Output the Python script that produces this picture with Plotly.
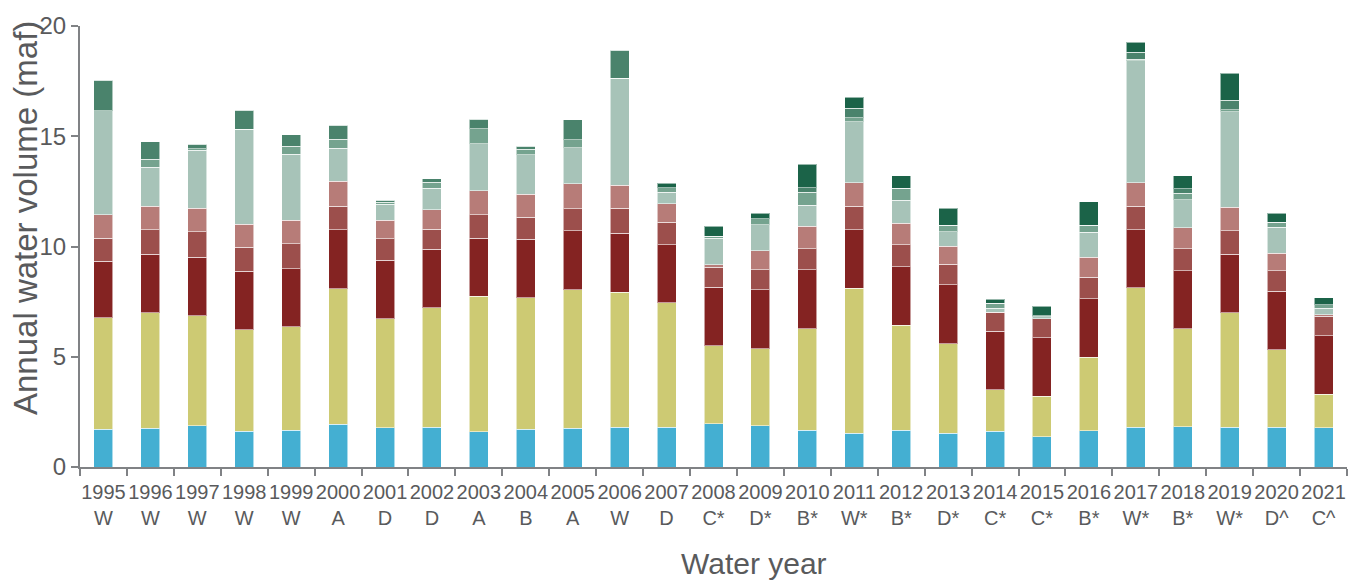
import plotly.graph_objects as go

# Water years and their year-type classification
years = [str(y) for y in range(1995, 2022)]
year_types = ["W", "W", "W", "W", "W", "A", "D", "D", "A", "B", "A", "W", "D",
              "C*", "D*", "B*", "W*", "B*", "D*", "C*", "C*", "B*", "W*", "B*",
              "W*", "D^", "C^"]

# Annual volumes (maf) for each stacked component, bottom to top
source_1 = [1.71, 1.75, 1.87, 1.63, 1.66, 1.93, 1.77, 1.81, 1.59, 1.71, 1.75, 1.80, 1.81,
            1.97, 1.86, 1.66, 1.54, 1.66, 1.54, 1.63, 1.37, 1.65, 1.81, 1.83, 1.80, 1.81, 1.78]
source_2 = [5.05, 5.24, 5.00, 4.59, 4.69, 6.16, 4.96, 5.41, 6.15, 5.97, 6.30, 6.13, 5.63,
            3.52, 3.51, 4.62, 6.57, 4.77, 4.06, 1.87, 1.85, 3.32, 6.31, 4.44, 5.19, 3.51, 1.52]
source_3 = [2.57, 2.66, 2.65, 2.66, 2.65, 2.66, 2.65, 2.65, 2.64, 2.65, 2.66, 2.67, 2.64,
            2.66, 2.66, 2.66, 2.65, 2.66, 2.66, 2.66, 2.64, 2.66, 2.64, 2.64, 2.66, 2.66, 2.65]
source_4 = [1.05, 1.10, 1.14, 1.08, 1.13, 1.07, 0.97, 0.92, 1.05, 1.00, 1.01, 1.13, 1.01,
            0.92, 0.91, 0.96, 1.07, 0.98, 0.93, 0.86, 0.87, 0.97, 1.07, 0.99, 1.07, 0.91, 0.88]
source_5 = [1.07, 1.07, 1.08, 1.06, 1.07, 1.13, 0.83, 0.87, 1.10, 1.04, 1.12, 1.05, 0.86,
            0.11, 0.86, 1.01, 1.06, 0.99, 0.82, 0.00, 0.00, 0.92, 1.07, 0.95, 1.07, 0.80, 0.07]
source_6 = [4.71, 1.78, 2.63, 4.29, 2.99, 1.50, 0.73, 0.99, 2.14, 1.79, 1.64, 4.84, 0.51,
            1.20, 1.19, 0.97, 2.77, 1.04, 0.67, 0.17, 0.09, 1.13, 5.53, 1.28, 4.32, 1.19, 0.30]
source_7 = [0.00, 0.36, 0.07, 0.00, 0.35, 0.41, 0.10, 0.27, 0.68, 0.26, 0.37, 0.00, 0.21,
            0.09, 0.28, 0.58, 0.17, 0.55, 0.28, 0.23, 0.05, 0.32, 0.07, 0.28, 0.10, 0.22, 0.15]
source_8 = [1.38, 0.78, 0.19, 0.86, 0.52, 0.64, 0.08, 0.15, 0.42, 0.12, 0.89, 1.28, 0.00,
            0.00, 0.00, 0.21, 0.44, 0.00, 0.00, 0.00, 0.00, 0.00, 0.30, 0.21, 0.43, 0.00, 0.00]
source_9 = [0.00, 0.00, 0.00, 0.00, 0.00, 0.00, 0.00, 0.00, 0.00, 0.00, 0.00, 0.00, 0.19,
            0.44, 0.24, 1.05, 0.49, 0.56, 0.77, 0.18, 0.42, 1.06, 0.47, 0.58, 1.21, 0.40, 0.33]

series = [source_1, source_2, source_3, source_4, source_5,
          source_6, source_7, source_8, source_9]
colors = ["#44afd2", "#cdca73", "#842322", "#9c4f4c", "#b77c78",
          "#a7c3b8", "#75a38f", "#4a836c", "#1b6348"]

categories = [f"{y}<br>{t}" for y, t in zip(years, year_types)]

fig = go.Figure()
for i, (vals, col) in enumerate(zip(series, colors)):
    fig.add_trace(go.Bar(
        x=categories, y=vals, name=f"Source {i + 1}",
        marker=dict(color=col, line=dict(color="rgba(255,255,255,0.55)", width=1)),
    ))

axis_gray = "#808285"
text_gray = "#595a5c"
font_family = "Liberation Sans, Arial, sans-serif"

fig.update_layout(
    barmode="stack",
    bargap=0.595,
    width=1359, height=581,
    margin=dict(l=80, r=12, t=18, b=114),
    plot_bgcolor="white", paper_bgcolor="white",
    showlegend=False,
    font=dict(family=font_family, color=text_gray),
    xaxis=dict(
        tickfont=dict(size=20, color=text_gray),
        tickangle=0, ticklabelstandoff=6,
        showline=True, linecolor=axis_gray, linewidth=2,
        ticks="outside", tickson="boundaries", ticklen=7, tickwidth=2, tickcolor=axis_gray,
        showgrid=False,
    ),
    yaxis=dict(
        range=[0, 20], tickvals=[0, 5, 10, 15, 20],
        tickfont=dict(size=24, color=text_gray),
        showline=True, linecolor=axis_gray, linewidth=2,
        ticks="outside", ticklen=7, tickwidth=2, tickcolor=axis_gray,
        showgrid=False, zeroline=False,
    ),
    annotations=[
        dict(text="Water year", xref="paper", yref="paper", x=0.532, y=-0.218,
             xanchor="center", yanchor="middle", showarrow=False,
             font=dict(size=30, color=text_gray)),
        dict(text="Annual water volume (maf)", xref="paper", yref="paper",
             x=-0.043, y=0.5635, xanchor="center", yanchor="middle", textangle=-90,
             showarrow=False, font=dict(size=33, color=text_gray)),
    ],
)

fig.write_html("out.html")
